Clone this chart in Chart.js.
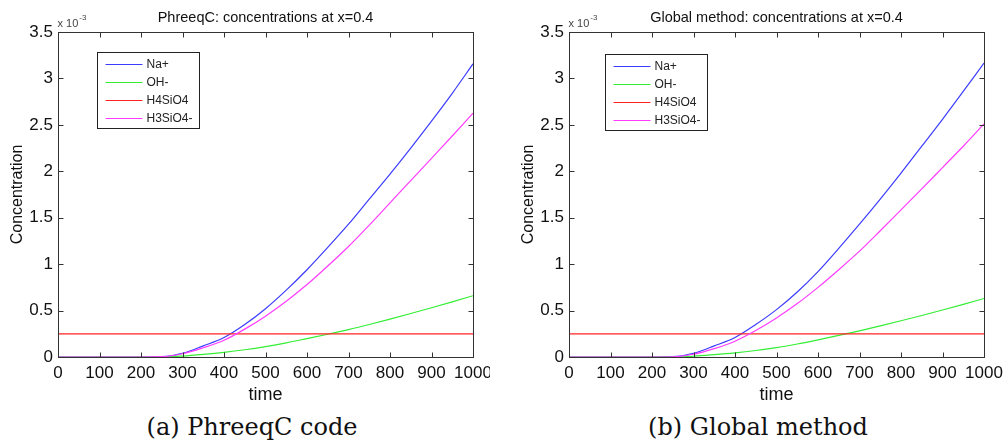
<!DOCTYPE html>
<html>
<head>
<meta charset="utf-8">
<script src="https://cdn.jsdelivr.net/npm/chart.js@4"></script>
<style>
  body { margin: 0; background: #fff; width: 1007px; height: 446px; overflow: hidden; position: relative; }
  canvas { position: absolute; top: 0; }
  .caption { position: absolute; top: 413px; line-height: 28px; font-family: "DejaVu Serif", serif; font-size: 24px; color: #111; transform: translateX(-50%); white-space: nowrap; }
</style>
</head>
<body>
<canvas id="phreeqc" width="490" height="410" style="left:0"></canvas>
<canvas id="global" width="496" height="410" style="left:511px"></canvas>
<div class="caption" style="left:252px">(a) PhreeqC code</div>
<div class="caption" style="left:758px">(b) Global method</div>
<script>
// time samples (shared by both runs)
const times = [0, 50, 100, 150, 200, 250, 300, 350, 400, 450, 500, 550, 600, 650, 700, 750, 800, 850, 900, 950, 1000];
const species = ['Na+', 'OH-', 'H4SiO4', 'H3SiO4-'];

// concentrations, in units of 1e-3 (the "x 10^-3" on the axis)
const phreeqcNa   = [0, 0, 0, 0, 0, 0.003, 0.04, 0.12, 0.21, 0.35, 0.52, 0.72, 0.94, 1.18, 1.43, 1.70, 1.97, 2.25, 2.54, 2.84, 3.157];
const phreeqcOH   = [0, 0, 0, 0, 0, 0, 0.01, 0.028, 0.05, 0.078, 0.112, 0.152, 0.198, 0.245, 0.295, 0.35, 0.408, 0.468, 0.53, 0.594, 0.66];
const phreeqcH4   = [0.25, 0.25, 0.25, 0.25, 0.25, 0.25, 0.25, 0.25, 0.25, 0.25, 0.25, 0.25, 0.25, 0.25, 0.25, 0.25, 0.25, 0.25, 0.25, 0.25, 0.25];
const phreeqcH3   = [0, 0, 0, 0, 0, 0.003, 0.035, 0.10, 0.18, 0.30, 0.44, 0.60, 0.78, 0.98, 1.19, 1.42, 1.66, 1.90, 2.14, 2.38, 2.626];

const globalNa    = [0, 0, 0, 0, 0, 0.003, 0.04, 0.12, 0.21, 0.35, 0.51, 0.70, 0.92, 1.17, 1.43, 1.70, 1.98, 2.27, 2.56, 2.86, 3.165];
const globalOH    = [0, 0, 0, 0, 0, 0, 0.008, 0.025, 0.045, 0.07, 0.10, 0.14, 0.185, 0.232, 0.282, 0.335, 0.39, 0.447, 0.506, 0.567, 0.63];
const globalH4    = [0.25, 0.25, 0.25, 0.25, 0.25, 0.25, 0.25, 0.25, 0.25, 0.25, 0.25, 0.25, 0.25, 0.25, 0.25, 0.25, 0.25, 0.25, 0.25, 0.25, 0.25];
const globalH3    = [0, 0, 0, 0, 0, 0.002, 0.03, 0.09, 0.17, 0.285, 0.42, 0.575, 0.75, 0.94, 1.14, 1.36, 1.585, 1.81, 2.04, 2.27, 2.51];

const xTicks = [0, 100, 200, 300, 400, 500, 600, 700, 800, 900, 1000];
const yTicks = [0, 0.5, 1, 1.5, 2, 2.5, 3, 3.5];

const colors = ['#3c3cff', '#33ee33', '#ff2222', '#ff3cff'];
const FONT = '"Liberation Sans", Arial, sans-serif';

Chart.defaults.font.family = FONT;

// matlab-ish box, inward ticks, multiplier and legend
const matlabBox = {
  id: 'matlabBox',
  afterDatasetsDraw(chart, args, opts) {
    const ctx = chart.ctx;
    const a = chart.chartArea;
    const x = chart.scales.x, y = chart.scales.y;
    const L = Math.round(a.left) + 0.5, R = Math.round(a.right) + 0.5;
    const T = Math.round(a.top) + 0.5, B = Math.round(a.bottom) + 0.5;
    ctx.save();
    ctx.strokeStyle = '#333';
    ctx.lineWidth = 1;
    ctx.strokeRect(L, T, R - L, B - T);
    ctx.beginPath();
    xTicks.forEach(v => {
      const px = Math.round(x.getPixelForValue(v)) + 0.5;
      ctx.moveTo(px, B); ctx.lineTo(px, B - 5);
      ctx.moveTo(px, T); ctx.lineTo(px, T + 5);
    });
    yTicks.forEach(v => {
      const py = Math.round(y.getPixelForValue(v)) + 0.5;
      ctx.moveTo(L, py); ctx.lineTo(L + 5, py);
      ctx.moveTo(R, py); ctx.lineTo(R - 5, py);
    });
    ctx.stroke();

    // x 10^-3
    ctx.fillStyle = '#444';
    ctx.textBaseline = 'alphabetic';
    ctx.textAlign = 'left';
    ctx.font = '11px ' + FONT;
    ctx.fillText('x 10', L - 1, T - 6);
    const w = ctx.measureText('x 10').width;
    ctx.font = '8px ' + FONT;
    ctx.fillText('-3', L - 1 + w + 1, T - 13);

    // legend box
    const bx = Math.round(a.left + opts.lx) + 0.5, by = Math.round(a.top + opts.ly) + 0.5;
    ctx.fillStyle = '#fff';
    ctx.fillRect(bx, by, 102, 76);
    ctx.strokeStyle = '#222';
    ctx.strokeRect(bx, by, 102, 76);
    ctx.font = '12px ' + FONT;
    ctx.textBaseline = 'middle';
    chart.data.datasets.forEach((ds, i) => {
      const ry = Math.round(by + 11.5 + i * 18) + 0.5;
      ctx.strokeStyle = ds.borderColor;
      ctx.beginPath();
      ctx.moveTo(bx + 8, ry); ctx.lineTo(bx + 45, ry);
      ctx.stroke();
      ctx.fillStyle = '#222';
      ctx.fillText(ds.label, bx + 49, ry);
    });
    ctx.restore();
  }
};

function makeChart(id, title, series, padRight, lx, ly) {
  const datasets = series.map((vals, i) => ({
    label: species[i],
    data: times.map((t, j) => ({ x: t, y: vals[j] })),
    borderColor: colors[i],
    backgroundColor: colors[i],
    borderWidth: 1.2,
    pointRadius: 0,
    cubicInterpolationMode: 'monotone',
    order: series.length - i
  }));

  return new Chart(document.getElementById(id), {
    type: 'line',
    data: { datasets },
    plugins: [matlabBox],
    options: {
      responsive: false,
      animation: false,
      layout: { padding: { left: 0, right: padRight, top: 0, bottom: 0 } },
      plugins: {
        legend: { display: false },
        tooltip: { enabled: false },
        title: {
          display: true, text: title, fullSize: false, color: '#111',
          font: { size: 14.5, weight: 'normal' },
          padding: { top: 9, bottom: 5.6 }
        },
        matlabBox: { lx: lx, ly: ly }
      },
      scales: {
        x: {
          type: 'linear', min: 0, max: 1000,
          grid: { display: false, drawTicks: false }, border: { display: false },
          ticks: { stepSize: 100, autoSkip: false, maxRotation: 0, padding: 6, color: '#111', font: { size: 17 }, callback: v => `${v}` },
          title: { display: true, text: 'time', color: '#111', font: { size: 18 }, padding: { top: 0, bottom: 4 } },
          afterFit(s) { s.height = 53; s.paddingLeft = 0; s.paddingRight = 0; }
        },
        y: {
          min: 0, max: 3.5,
          grid: { display: false, drawTicks: false }, border: { display: false },
          ticks: { stepSize: 0.5, padding: 5, color: '#111', font: { size: 17 }, callback: v => `${v}` },
          title: { display: true, text: 'Concentration', color: '#111', font: { size: 16 }, padding: { top: 8, bottom: 0 } },
          afterFit(s) { s.width = 58; }
        }
      }
    }
  });
}

makeChart('phreeqc', 'PhreeqC: concentrations at x=0.4', [phreeqcNa, phreeqcOH, phreeqcH4, phreeqcH3], 17, 39, 20);
makeChart('global', 'Global method: concentrations at x=0.4', [globalNa, globalOH, globalH4, globalH3], 23, 36, 22);
</script>
</body>
</html>
